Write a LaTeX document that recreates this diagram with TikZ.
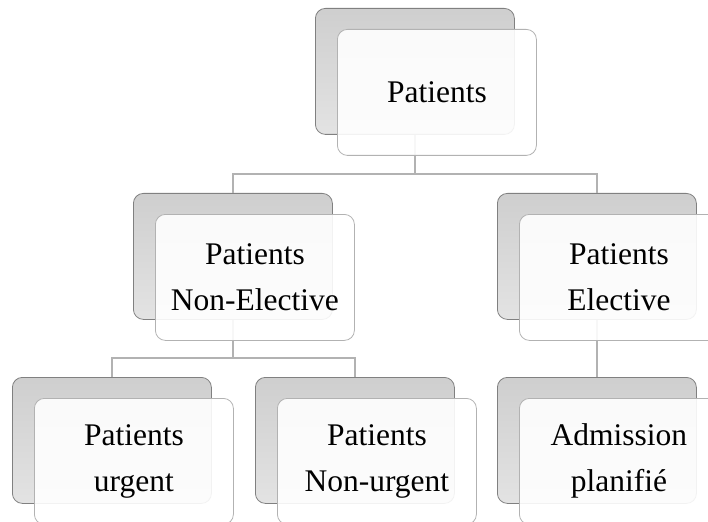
\documentclass[tikz,border=0pt]{standalone}
\usepackage{fontspec}
\setmainfont{Liberation Serif}
\begin{document}
\begin{tikzpicture}[x=1pt,y=-1pt,
  backbox/.style={draw=black!50, line width=0.8pt, rounded corners=10pt,
    top color=black!19, bottom color=black!11,
    minimum width=199pt, minimum height=126pt, anchor=north west, inner sep=0pt},
  frontbox/.style={draw=black!30, line width=0.8pt, rounded corners=10pt,
    fill=white, fill opacity=0.9, text opacity=1,
    minimum width=199pt, minimum height=126pt, anchor=north west, inner sep=0pt,
    align=center, font=\fontsize{31.5}{46}\selectfont},
  conn/.style={draw=black!30, line width=2.2pt}]
\useasboundingbox (0,0) rectangle (708,521);
\clip (0,0) rectangle (708,521);
% back boxes
\node[backbox] (b0) at (315,8) {};
\node[backbox] (b1) at (133,193) {};
\node[backbox] (b2) at (497,193) {};
\node[backbox] (b3) at (12,377) {};
\node[backbox] (b4) at (255,377) {};
\node[backbox] (b5) at (497,377) {};
% connectors
\coordinate (h0) at (0,174);
\coordinate (h1) at (0,358);
\draw[conn] (b0.south) -- (b0.south |- h0) -| (b1.north);
\draw[conn] (b0.south |- h0) -| (b2.north);
\draw[conn] (b1.south) -- (b1.south |- h1) -| (b3.north);
\draw[conn] (b1.south |- h1) -| (b4.north);
\draw[conn] (b2.south) -- (b5.north);
% front boxes
\node[frontbox] (f0) at (337,29) {Patients};
\node[frontbox] (f1) at (155,214) {Patients\\Non-Elective};
\node[frontbox] (f2) at (519,214) {Patients\\Elective};
\node[frontbox] (f3) at (34,398) {Patients\\urgent};
\node[frontbox] (f4) at (277,398) {Patients\\Non-urgent};
\node[frontbox] (f5) at (519,398) {Admission\\planifié};
\end{tikzpicture}
\end{document}
